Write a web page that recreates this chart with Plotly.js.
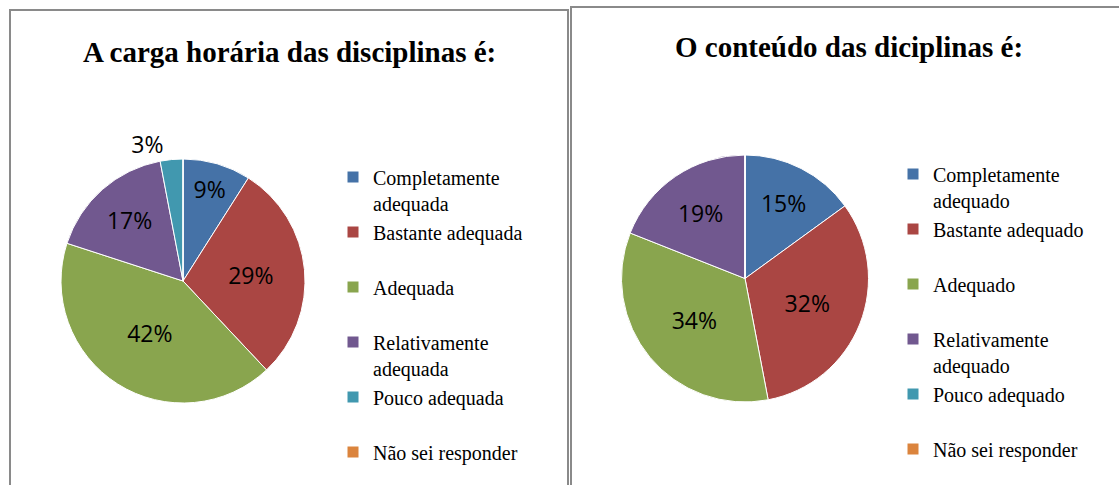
<!DOCTYPE html>
<html>
<head>
<meta charset="utf-8">
<script src="https://cdn.plot.ly/plotly-3.0.1.min.js"></script>
<style>html,body{margin:0;padding:0;background:#fff;}#chart{width:1119px;height:485px;}</style>
</head>
<body>
<div id="chart"></div>
<script>
// ---- data ----
const titleLeft = 'A carga horária das disciplinas é:';
const titleRight = 'O conteúdo das diciplinas é:';
const categoriesLeft = ['Completamente adequada', 'Bastante adequada', 'Adequada', 'Relativamente adequada', 'Pouco adequada', 'Não sei responder'];
const valuesLeft = [9, 29, 42, 17, 3, 0];
const categoriesRight = ['Completamente adequado', 'Bastante adequado', 'Adequado', 'Relativamente adequado', 'Pouco adequado', 'Não sei responder'];
const valuesRight = [15, 32, 34, 19, 0, 0];
const sliceColors = ['#4572A7', '#AA4643', '#89A54E', '#71588F', '#4198AF', '#DB843D'];

// ---- helpers ----
const W = 1119, H = 485;
const px = x => x / W;
const py = y => (H - y) / H;
// wrap long legend labels onto two lines; pad short ones with an empty second line.
// "pad" differs per chart so identical labels are not merged across the two pies.
function legendLabel(s, pad) {
  if (s.length > 18) { const i = s.indexOf(' '); return s.slice(0, i) + '<br>' + s.slice(i + 1); }
  return s + '<br>' + pad;
}
const pieText = {family: '"Open Sans", sans-serif', size: 23, color: '#000'};

const traces = [
  {
    type: 'pie', labels: categoriesLeft.map(s => legendLabel(s, '\u00a0')), values: valuesLeft,
    sort: false, direction: 'clockwise', rotation: 0,
    marker: {colors: sliceColors, line: {color: '#ffffff', width: 1}},
    textinfo: 'percent', textposition: ['inside', 'inside', 'inside', 'inside', 'outside', 'inside'],
    insidetextorientation: 'horizontal',
    textfont: pieText, insidetextfont: pieText, outsidetextfont: pieText,
    domain: {x: [px(61), px(305)], y: [py(404), py(158)]},
    legend: 'legend', hoverinfo: 'label+percent'
  },
  {
    type: 'pie', labels: categoriesRight.map(s => legendLabel(s, '\u00a0\u00a0')), values: valuesRight,
    sort: false, direction: 'clockwise', rotation: 0,
    marker: {colors: sliceColors, line: {color: '#ffffff', width: 1}},
    textinfo: 'percent', textposition: 'inside',
    insidetextorientation: 'horizontal',
    textfont: pieText, insidetextfont: pieText, outsidetextfont: pieText,
    domain: {x: [px(621), px(869)], y: [py(402), py(155)]},
    legend: 'legend2', hoverinfo: 'label+percent'
  }
];

const legendFont = {family: '"Liberation Serif", "Times New Roman", serif', size: 20, color: '#000'};
const titleFont = {family: '"Liberation Serif", "Times New Roman", serif', size: 29, color: '#000', weight: 'bold'};

const layout = {
  width: W, height: H,
  margin: {l: 0, r: 0, t: 0, b: 0, autoexpand: false},
  paper_bgcolor: '#fff',
  showlegend: true,
  legend: {x: px(333), xanchor: 'left', y: py(157.5), yanchor: 'top', font: legendFont,
           bgcolor: 'rgba(0,0,0,0)', valign: 'top', traceorder: 'normal'},
  legend2: {x: px(893), xanchor: 'left', y: py(154.5), yanchor: 'top', font: legendFont,
            bgcolor: 'rgba(0,0,0,0)', valign: 'top', traceorder: 'normal'},
  annotations: [
    {text: '<b>' + titleLeft + '</b>', xref: 'paper', yref: 'paper', x: px(289), y: py(52),
     xanchor: 'center', yanchor: 'middle', showarrow: false, font: titleFont},
    {text: '<b>' + titleRight + '</b>', xref: 'paper', yref: 'paper', x: px(849), y: py(47),
     xanchor: 'center', yanchor: 'middle', showarrow: false, font: titleFont}
  ],
  shapes: [
    {type: 'rect', xref: 'paper', yref: 'paper', x0: px(10), x1: px(568), y0: -0.05, y1: py(10),
     line: {color: '#8a8a8a', width: 2}, fillcolor: 'rgba(0,0,0,0)', layer: 'below'},
    {type: 'rect', xref: 'paper', yref: 'paper', x0: px(571), x1: 1.05, y0: -0.05, y1: py(7),
     line: {color: '#8a8a8a', width: 2}, fillcolor: 'rgba(0,0,0,0)', layer: 'below'}
  ]
};

Plotly.newPlot('chart', traces, layout, {displayModeBar: false, staticPlot: true});
</script>
</body>
</html>
